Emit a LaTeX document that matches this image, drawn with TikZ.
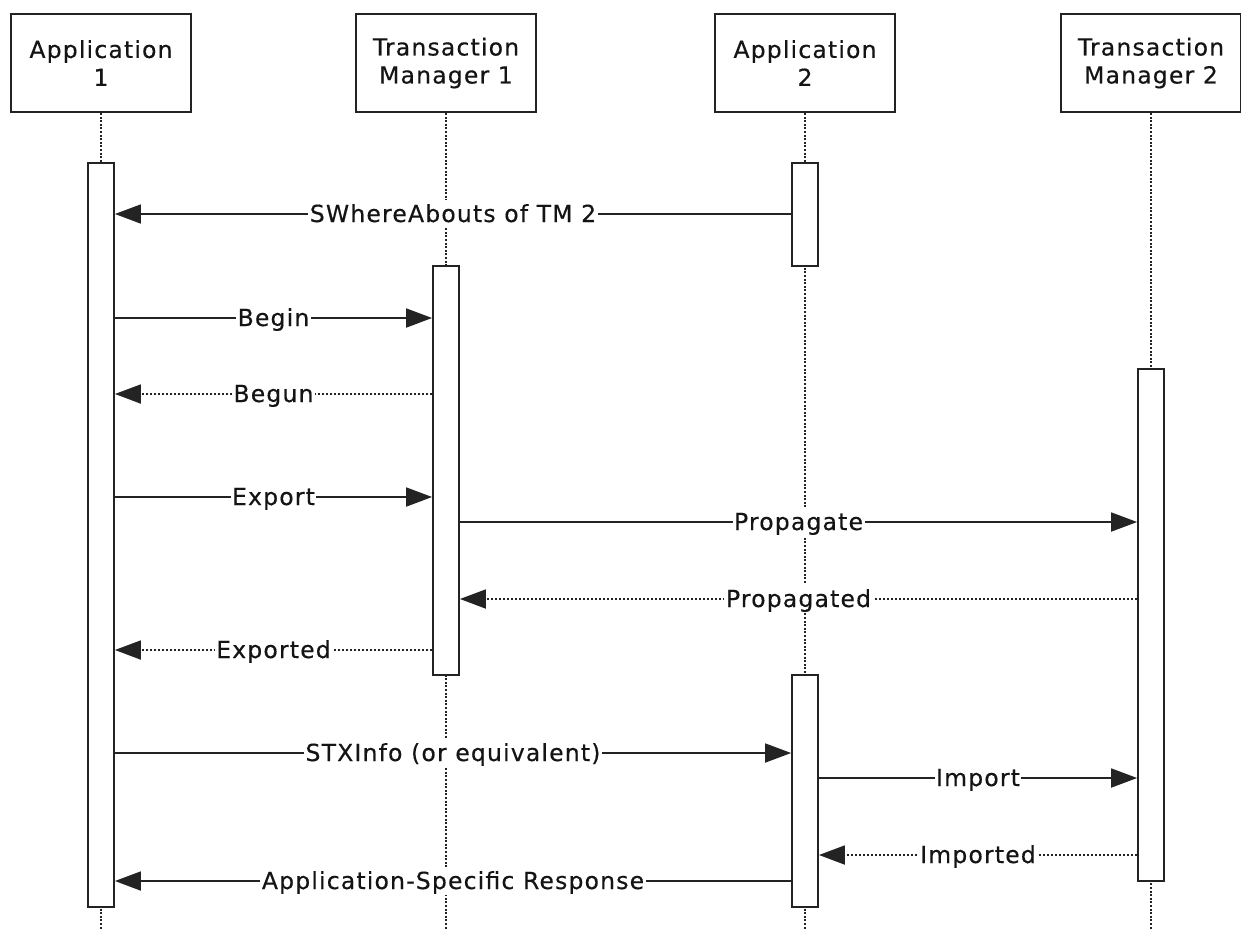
\documentclass[tikz,border=0pt]{standalone}
\usepackage{fontspec}
\setmainfont{DejaVu Sans}[LetterSpace=5.0,FakeBold=0.4]
\usetikzlibrary{arrows.meta}
\definecolor{linec}{RGB}{35,35,35}
\begin{document}
\begin{tikzpicture}[x=1pt,y=-1pt,
  every node/.style={font=\fontsize{23.5}{28}\selectfont, text=black!92},
  part/.style={draw=linec, line width=1.8pt, minimum width=180pt, minimum height=98pt, align=center, inner sep=0pt, fill=white},
  act/.style={draw=linec, line width=1.8pt, fill=white, minimum width=26pt, inner sep=0pt},
  life/.style={draw=linec, line width=1.5pt, dash pattern=on 2pt off 1.6pt},
  msg/.style={draw=linec, line width=1.8pt, -{Triangle[length=26pt,width=19pt]}},
  reply/.style={msg, dash pattern=on 2pt off 2pt},
  lbl/.style={fill=white, inner xsep=1.5pt, inner ysep=2pt, text height=20pt, text depth=4pt, midway}
]
\useasboundingbox (0,0) rectangle (1241,929);
% participants
\node[part] (p1) at (101,63) {Application\\1};
\node[part] (p2) at (446,63) {Transaction\\Manager 1};
\node[part] (p3) at (805,63) {Application\\2};
\node[part] (p4) at (1151,63) {Transaction\\Manager 2};
% lifelines
\coordinate (e1) at (101,929);
\coordinate (e2) at (446,929);
\coordinate (e3) at (805,929);
\coordinate (e4) at (1151,929);
\draw[life] (p1) -- (e1);
\draw[life] (p2) -- (e2);
\draw[life] (p3) -- (e3);
\draw[life] (p4) -- (e4);
% activations
\node[act, minimum height=744pt] (a1) at (101,535) {};
\node[act, minimum height=409pt] (t1) at (446,470.5) {};
\node[act, minimum height=103pt] (b1) at (805,214.5) {};
\node[act, minimum height=232pt] (b2) at (805,791) {};
\node[act, minimum height=512pt] (t2) at (1151,625) {};
% messages
\draw[msg] (b1.west |- 0,214) -- node[lbl]{SWhereAbouts of TM 2} (a1.east |- 0,214);
\draw[msg] (a1.east |- 0,318) -- node[lbl]{Begin} (t1.west |- 0,318);
\draw[reply] (t1.west |- 0,394) -- node[lbl]{Begun} (a1.east |- 0,394);
\draw[msg] (a1.east |- 0,497) -- node[lbl]{Export} (t1.west |- 0,497);
\draw[msg] (t1.east |- 0,522) -- node[lbl]{Propagate} (t2.west |- 0,522);
\draw[reply] (t2.west |- 0,599) -- node[lbl]{Propagated} (t1.east |- 0,599);
\draw[reply] (t1.west |- 0,650) -- node[lbl]{Exported} (a1.east |- 0,650);
\draw[msg] (a1.east |- 0,753) -- node[lbl]{STXInfo (or equivalent)} (b2.west |- 0,753);
\draw[msg] (b2.east |- 0,778) -- node[lbl]{Import} (t2.west |- 0,778);
\draw[reply] (t2.west |- 0,855) -- node[lbl]{Imported} (b2.east |- 0,855);
\draw[msg] (b2.west |- 0,881) -- node[lbl]{Application-Specific Response} (a1.east |- 0,881);
\end{tikzpicture}
\end{document}
